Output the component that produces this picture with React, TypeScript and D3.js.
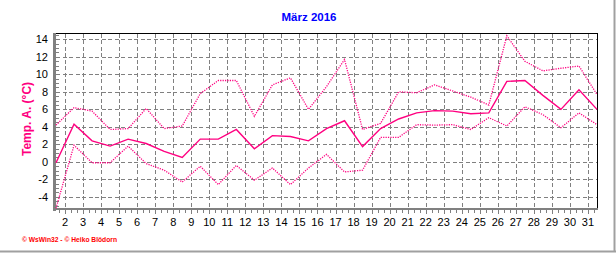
import React from "react";
import * as d3 from "d3";

const title = "März 2016";
const yLabel = "Temp. A. (°C)";
const credit = "© WsWin32 - © Heiko Blödorn";

const days = [1,2,3,4,5,6,7,8,9,10,11,12,13,14,15,16,17,18,19,20,21,22,23,24,25,26,27,28,29,30,31];
const meanT = [-0.1, 4.3, 2.4, 1.8, 2.6, 2.1, 1.2, 0.5, 2.6, 2.6, 3.7, 1.5, 3.0, 2.9, 2.4, 3.8, 4.7, 1.75, 3.8, 4.9, 5.6, 5.85, 5.8, 5.5, 5.6, 9.2, 9.3, 7.6, 6.0, 8.25, 6.0];
const maxT = [4.2, 6.2, 5.8, 3.7, 3.8, 6.1, 3.8, 4.1, 7.8, 9.3, 9.3, 5.2, 8.8, 9.6, 6.0, 8.6, 11.7, 3.7, 4.4, 8.0, 7.9, 8.8, 8.1, 7.4, 6.5, 14.4, 11.5, 10.4, 10.7, 10.95, 7.7];
const minT = [-5.3, 1.9, -0.1, -0.1, 1.8, -0.2, -0.95, -2.3, -0.5, -2.6, -0.4, -2.1, -0.7, -2.6, -0.7, 0.85, -1.15, -0.95, 2.8, 2.8, 4.25, 4.2, 4.25, 3.7, 5.05, 4.1, 6.3, 5.4, 3.9, 5.6, 4.25];

const yTicks = [-4, -2, 0, 2, 4, 6, 8, 10, 12, 14];
const xTicks = [2,3,4,5,6,7,8,9,10,11,12,13,14,15,16,17,18,19,20,21,22,23,24,25,26,27,28,29,30,31];

const W = 616, H = 253;
const L = 56, R = 597, T = 33.5, B = 208.5;
const PINK = "#ff0080";
const GRID = "#808080";
const FONT = "'Liberation Sans', Arial, sans-serif";

export default function App() {
  const x = d3.scaleLinear().domain([1.5, 31.5]).range([L, R]);
  const y = d3.scaleLinear().domain([-5.33, 14.67]).range([B, T]);
  const line = d3.line<number>()
    .x((_, i) => x(days[i] + 0.5))
    .y((d) => y(d));

  const minorX: number[] = [];
  for (let t = 1.5 + 1 / 6; t <= 31.5; t += 1 / 3) minorX.push(t);
  const minorY: number[] = [];
  for (let v = -5; v <= 14.5; v += 0.5) minorY.push(v);

  return (
    <svg width={W} height={H} style={{ position: "absolute", left: 0, top: 0, background: "#fff" }}
      fontFamily={FONT}>
      <rect x={0} y={0} width={W} height={H} fill="#fff" />
      {/* frame */}
      <line x1={614.5} y1={0} x2={614.5} y2={252} stroke="#a0a0a0" strokeWidth={2} />
      <line x1={0} y1={251.5} x2={616} y2={251.5} stroke="#a0a0a0" strokeWidth={2} />

      <text x={309} y={21} textAnchor="middle" fontWeight="bold" fontSize={11.5} fill="#0000ff">{title}</text>

      {/* grid */}
      <g shapeRendering="crispEdges">
        {yTicks.map((v) => (
          <line key={"gy" + v} x1={L} x2={R} y1={Math.round(y(v)) + 0.5} y2={Math.round(y(v)) + 0.5}
            stroke={GRID} strokeWidth={1} strokeDasharray="4 2.5" />
        ))}
        {xTicks.map((d) => (
          <line key={"gx" + d} x1={Math.round(x(d)) + 0.5} x2={Math.round(x(d)) + 0.5} y1={T} y2={B}
            stroke={GRID} strokeWidth={1} strokeDasharray="4 2.5" />
        ))}

        {/* borders */}
        <line x1={L - 1} x2={R + 0.5} y1={T} y2={T} stroke="#000" strokeWidth={1} />
        <line x1={R} x2={R} y1={T} y2={B} stroke="#000" strokeWidth={1} />
        <line x1={54.5} x2={54.5} y1={T - 0.5} y2={B + 2} stroke={GRID} strokeWidth={2.5} />
        <line x1={54} x2={R + 1} y1={B + 0.5} y2={B + 0.5} stroke={GRID} strokeWidth={2.5} />

        {/* minor ticks */}
        {minorY.map((v, i) => (
          <line key={"my" + i} x1={56} x2={58.5} y1={Math.round(y(v)) + 0.5} y2={Math.round(y(v)) + 0.5}
            stroke={GRID} strokeWidth={1} />
        ))}
        {minorX.map((t, i) => {
          const major = Math.abs(t - Math.round(t)) < 0.01;
          return (
            <line key={"mx" + i} x1={Math.round(x(t)) + 0.5} x2={Math.round(x(t)) + 0.5} y1={B + 1.5}
              y2={B + (major ? 5 : 4)} stroke={GRID} strokeWidth={1} />
          );
        })}
      </g>

      {/* tick labels */}
      {yTicks.map((v) => (
        <text key={"ly" + v} x={48} y={y(v)} dy="0.35em" textAnchor="end" fontSize={11} fill="#000">{v}</text>
      ))}
      {xTicks.map((d) => (
        <text key={"lx" + d} x={x(d)} y={226} textAnchor="middle" fontSize={11} fill="#000">{d}</text>
      ))}

      <text transform={`translate(27,${119}) rotate(-90)`} textAnchor="middle" dy="0.35em"
        fontWeight="bold" fontSize={12} fill={PINK}>{yLabel}</text>

      {/* lines */}
      <path d={line(maxT) || ""} fill="none" stroke={PINK} strokeWidth={1.3} strokeDasharray="1.2 1.2" />
      <path d={line(minT) || ""} fill="none" stroke={PINK} strokeWidth={1.3} strokeDasharray="1.2 1.2" />
      <path d={line(meanT) || ""} fill="none" stroke={PINK} strokeWidth={1.4} />

      <text x={22} y={242} fontSize={7} fontWeight="bold" fill="#ff0000" textLength={95}
        lengthAdjust="spacingAndGlyphs">{credit}</text>
    </svg>
  );
}
